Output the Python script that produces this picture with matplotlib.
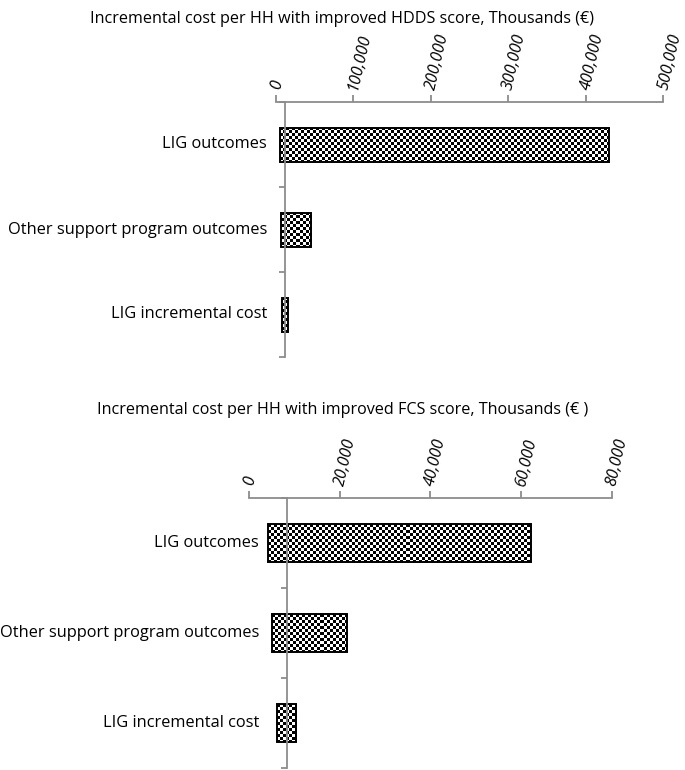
import numpy as np
import matplotlib
matplotlib.use('Agg')
import matplotlib.pyplot as plt
import matplotlib.transforms as mtransforms

plt.rcParams['font.family'] = ['Open Sans', 'DejaVu Sans']

categories = ['LIG outcomes', 'Other support program outcomes', 'LIG incremental cost']

# HDDS panel (thousands EUR), floating bars: start and end
hdds_start = [5500, 6800, 8500]
hdds_end = [429600, 45500, 15900]
hdds_ticks = [0, 100000, 200000, 300000, 400000, 500000]
hdds_cross = 12400
hdds_title = 'Incremental cost per HH with improved HDDS score, Thousands (€)'

# FCS panel
fcs_start = [4300, 5100, 6100]
fcs_end = [62100, 21700, 10400]
fcs_ticks = [0, 20000, 40000, 60000, 80000]
fcs_cross = 8450
fcs_title = 'Incremental cost per HH with improved FCS score, Thousands (€ )'

W, H = 685, 770
fig = plt.figure(figsize=(W / 100, H / 100), dpi=100)

AXIS_GRAY = '#8c8c8c'


def checker_bar(ax, y, left, right, height, cell=3):
    # white base, checkerboard image clipped to the bar, black outline on top
    base = ax.barh(y, right - left, left=left, height=height, color='white',
                   edgecolor='none', zorder=2)[0]
    ax.barh(y, right - left, left=left, height=height, color='none',
            edgecolor='black', linewidth=1.4, zorder=4)
    fig.canvas.draw()
    p0 = ax.transData.transform((left, y - height / 2))
    p1 = ax.transData.transform((right, y + height / 2))
    wpx, hpx = abs(p1[0] - p0[0]), abs(p1[1] - p0[1])
    nx, ny = int(np.ceil(wpx / cell)) + 1, int(np.ceil(hpx / cell)) + 1
    ii, jj = np.indices((ny, nx))
    board = (ii + jj) % 2
    inv = ax.transData.inverted()
    x_end = inv.transform((p0[0] + nx * cell, p0[1]))[0]
    y_end = inv.transform((p0[0], p0[1] - ny * cell))[1]
    im = ax.imshow(board, cmap='gray', interpolation='nearest', aspect='auto',
                   extent=(left, x_end, y_end, y - height / 2), zorder=3,
                   vmin=0, vmax=1)
    im.set_clip_path(base)


def panel(rect, title, title_y, starts, ends, ticks, cross, label_x, bar_h):
    ax = fig.add_axes(rect)
    for s in ['bottom', 'right']:
        ax.spines[s].set_visible(False)
    for s in ['top', 'left']:
        ax.spines[s].set_color(AXIS_GRAY)
        ax.spines[s].set_linewidth(1.3)
    ax.spines['left'].set_position(('data', cross))
    ax.spines['left'].set_zorder(5)
    ax.xaxis.set_ticks_position('top')
    ax.set_xticks(ticks)
    ax.set_xticklabels([f'{t:,}' for t in ticks])
    ax.tick_params(axis='x', direction='out', length=5, width=1.3,
                   color=AXIS_GRAY, pad=4, labelsize=11.6)
    for lab in ax.get_xticklabels():
        lab.set_rotation(77)
        lab.set_rotation_mode('anchor')
        lab.set_ha('left')
        lab.set_va('center')
        lab.set_fontstyle('italic')
    ax.set_yticks([-0.5, 0.5, 1.5, 2.5])
    ax.set_yticklabels([])
    ax.tick_params(axis='y', direction='out', length=4, width=1.3, color=AXIS_GRAY)
    trans = mtransforms.blended_transform_factory(fig.transFigure, ax.transData)
    for i, name in enumerate(categories):
        ax.text(label_x / W, i, name, transform=trans,
                ha='right', va='center', fontsize=11.8)
    ax.set_xlim(ticks[0], ticks[-1])
    ax.set_ylim(2.5, -0.5)
    for i, (a, b) in enumerate(zip(starts, ends)):
        checker_bar(ax, i, a, b, bar_h)
    ax.set_xlim(ticks[0], ticks[-1])
    ax.set_ylim(2.5, -0.5)
    fig.text(0.5, 1 - title_y / H, title, ha='center', va='center', fontsize=11.6)
    return ax


top = panel([275.7 / W, 1 - 357 / H, (663.3 - 275.7) / W, 255 / H], hdds_title, 19,
            hdds_start, hdds_end, hdds_ticks, hdds_cross, 267, 0.4)
bottom = panel([249 / W, 1 - 768 / H, (611.7 - 249) / W, 270 / H], fcs_title, 410,
               fcs_start, fcs_end, fcs_ticks, fcs_cross, 259, 0.42)

fig.savefig('out.png', dpi=100)
